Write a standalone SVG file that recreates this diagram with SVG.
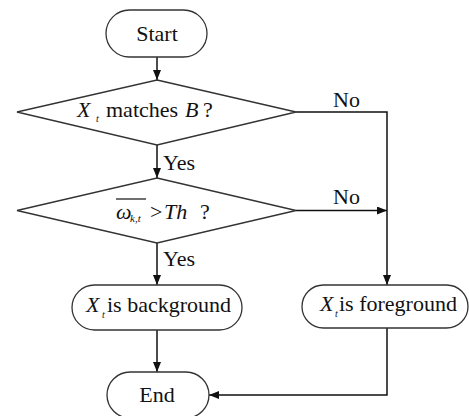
<svg xmlns="http://www.w3.org/2000/svg" width="469" height="416" viewBox="0 0 469 416" font-family="'Liberation Serif', 'DejaVu Serif', serif">
<defs>
<style>
.shape{fill:#fff;stroke:#333;stroke-width:1.3}
.line{fill:none;stroke:#111;stroke-width:1.5}
.t{font-family:'Liberation Serif','DejaVu Serif',serif;font-size:22px;fill:#111}
.it{font-style:italic}
.sub{font-size:10px;font-style:italic}
</style>
<marker id="ah" markerWidth="10" markerHeight="8" refX="10" refY="4" orient="auto" markerUnits="userSpaceOnUse">
<path d="M0,0 L10,4 L0,8 Z" fill="#111"/>
</marker>
</defs>
<rect width="469" height="416" fill="#fff"/>
<g id="connectors">
<path class="line" d="M157,57 V80" marker-end="url(#ah)"/>
<path class="line" d="M157,145 V178" marker-end="url(#ah)"/>
<path class="line" d="M157,243 V285" marker-end="url(#ah)"/>
<path class="line" d="M157,330 V372" marker-end="url(#ah)"/>
<path class="line" d="M296,112 H387 V285" marker-end="url(#ah)"/>
<path class="line" d="M296,210.5 H387" marker-end="url(#ah)"/>
<path class="line" d="M387,328 V395 H209" marker-end="url(#ah)"/>
<text class="t" x="333" y="107">No</text>
<text class="t" x="333" y="204">No</text>
<text class="t" x="163" y="170">Yes</text>
<text class="t" x="163" y="266">Yes</text>
</g>
<g id="start">
<rect class="shape" x="106" y="10" width="101" height="47" rx="23.5"/>
<text class="t" x="157" y="41" text-anchor="middle">Start</text>
</g>
<g id="decision1">
<polygon class="shape" points="157,80 296,112 157,145 17,112"/>
<text class="t" y="117"><tspan class="it" x="77">X</tspan><tspan class="sub" x="96" y="122">t</tspan><tspan x="106" y="117">matches</tspan><tspan class="it" x="185">B</tspan><tspan x="203">?</tspan></text>
</g>
<g id="decision2">
<polygon class="shape" points="157,178 296,210.5 157,243 17,210.5"/>
<line x1="116" y1="199" x2="146" y2="199" stroke="#111" stroke-width="1.2"/>
<text class="t" y="219"><tspan class="it" x="116">ω</tspan><tspan x="130" y="222" style="font-size:11px;font-style:italic">k,t</tspan><tspan x="150" y="219">&gt;</tspan><tspan class="it" x="164">Th</tspan><tspan x="200">?</tspan></text>
</g>
<g id="background">
<rect class="shape" x="72" y="285" width="170" height="45" rx="22.5"/>
<text class="t" y="312"><tspan class="it" x="86">X</tspan><tspan class="sub" x="102" y="318">t</tspan><tspan x="107" y="312">is background</tspan></text>
</g>
<g id="foreground">
<rect class="shape" x="302" y="285" width="166" height="43" rx="21.5"/>
<text class="t" y="311"><tspan class="it" x="320">X</tspan><tspan class="sub" x="335" y="317">t</tspan><tspan x="339" y="311">is foreground</tspan></text>
</g>
<g id="end">
<rect class="shape" x="107" y="372" width="102" height="46" rx="23"/>
<text class="t" x="157" y="402" text-anchor="middle">End</text>
</g>
</svg>
